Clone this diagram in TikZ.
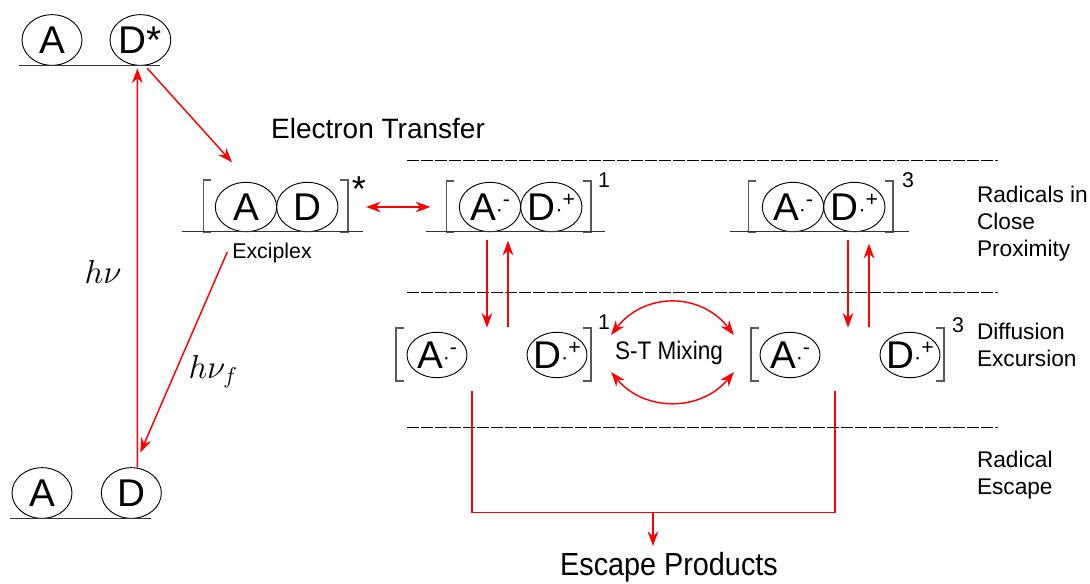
\documentclass[tikz,border=0pt]{standalone}
\usepackage{fontspec}
\setmainfont{Liberation Sans}
\usetikzlibrary{calc}
\usetikzlibrary{positioning}
\usetikzlibrary{arrows.meta}
\usetikzlibrary{shapes.geometric}

% ラジカルイオン（楕円の大きさは文字に合わせない）
\newcommand{\radion}[2]{\makebox[22pt]{#1\smash{\raisebox{3pt}{\fontsize{16}{16}\selectfont ·}\raisebox{10pt}{\fontsize{16}{16}\selectfont #2}}}}

\begin{document}
\begin{tikzpicture}
  [
  x=0.75pt, y=-0.75pt,
  % 線と文字の間の間隔を設定
  every node/.style={inner sep=0, outer sep=0},
  % 矢印の設定
  arrow/.style={-{Stealth[length=11pt, width=8pt]}, red, line width=1.1pt},
  twoway/.style={{Stealth[length=11pt, width=8pt]}-{Stealth[length=11pt, width=8pt]},
  red, line width=1.1pt},
  redline/.style={red, line width=1.1pt},
  % 分子
  mol/.style={ellipse, draw, line width=0.7pt, minimum width=45pt,
  minimum height=38pt, font=\fontsize{29}{29}\selectfont},
  pair/.style={mol, minimum width=46pt, minimum height=37pt},
  ion/.style={mol, minimum height=34pt},
  % 準位の線と括弧
  floorline/.style={line width=0.9pt, black!80},
  brack/.style={line width=0.9pt, black!65},
  divider/.style={line width=0.7pt, dash pattern=on 9pt off 1.5pt},
  % 右側の説明
  zone/.style={font=\fontsize{17}{20.3}\selectfont, align=left, anchor=west},
  spin/.style={font=\fontsize{16}{16}\selectfont}
  ]
  \useasboundingbox (0,0) rectangle (1090,583);

  % 励起状態
  \node [mol] (A0) at (52,40) {A};
  \node [mol, right=21pt of A0] (Dex) {D*};
  \draw [floorline] ($(A0.south)+(-33,0)$) -- ($(Dex.south)+(20,0)$);

  % 基底状態
  \node [mol] (A1) at (42,493) {A};
  \node [mol, right=22pt of A1] (D1) {D};
  \draw [floorline] ($(A1.south)+(-32,0)$) -- ($(D1.south)+(20,0)$);

  % エキサイプレックス
  \node [pair] (Ax) at (246,207) {A};
  \node [pair, right=0pt of Ax] (Dx) {D};
  \draw [brack] ($(Ax.west)+(-4,-27)$) -- ++(-8,0) -- ++(0,52) -- ++(8,0);
  \draw [brack] ($(Dx.east)+(2,-27)$) -- ++(8,0) -- ++(0,52) -- ++(-8,0);
  \draw [floorline] ($(Ax.south)+(-64,0)$) -- ($(Dx.south)+(56,0)$);
  \node [font=\fontsize{27}{27}\selectfont] (xstar) at (359,189) {*};
  \node [font=\fontsize{16}{16}\selectfont] (exlbl) at (272,253) {Exciplex};

  \node [font=\fontsize{21}{21}\selectfont] (et) at (378,128) {Electron Transfer};

  % 一重項ラジカル対
  \node [pair] (As) at (490,207) {\radion{A}{-}};
  \node [pair, right=0pt of As] (Ds) {\radion{D}{+}};
  \draw [brack] ($(As.west)+(-5,-26)$) -- ++(-8,0) -- ++(0,51) -- ++(8,0);
  \draw [brack] ($(Ds.east)+(1,-26)$) -- ++(8,0) -- ++(0,51) -- ++(-8,0);
  \draw [floorline] ($(As.south)+(-64,0)$) -- ($(Ds.south)+(54,0)$);
  \node [spin] (s1) at (604,180) {1};

  % 三重項ラジカル対
  \node [pair] (At) at (793,207) {\radion{A}{-}};
  \node [pair, right=0pt of At] (Dt) {\radion{D}{+}};
  \draw [brack] ($(At.west)+(-6,-26)$) -- ++(-8,0) -- ++(0,51) -- ++(8,0);
  \draw [brack] ($(Dt.east)+(0,-26)$) -- ++(8,0) -- ++(0,51) -- ++(-8,0);
  \draw [floorline] ($(At.south)+(-63,0)$) -- ($(Dt.south)+(55,0)$);
  \node [spin] (t1) at (908,180) {3};

  % 拡散したラジカル対
  \node [ion] (Asd) at (437,355) {\radion{A}{-}};
  \node [ion, right=45pt of Asd] (Dsd) {\radion{D}{+}};
  \draw [brack] ($(Asd.west)+(-3,-27)$) -- ++(-8,0) -- ++(0,53) -- ++(8,0);
  \draw [brack] ($(Dsd.east)+(-4,-27)$) -- ++(8,0) -- ++(0,53) -- ++(-8,0);
  \node [spin] (s2) at (604,322) {1};

  \node [ion] (Atd) at (790,355) {\radion{A}{-}};
  \node [ion, right=45pt of Atd] (Dtd) {\radion{D}{+}};
  \draw [brack] ($(Atd.west)+(-1,-27)$) -- ++(-8,0) -- ++(0,53) -- ++(8,0);
  \draw [brack] ($(Dtd.east)+(-4,-27)$) -- ++(8,0) -- ++(0,53) -- ++(-8,0);
  \node [spin] (t2) at (958,325) {3};

  % 区切りの点線
  \foreach \y in {160,292,427}
    \draw [divider] (407,\y) -- (998,\y);

  % 右側の説明
  \node [zone] (rcp) at (977,224) {Radicals in\\Close\\Proximity};
  \node [zone] (dex) at (977,345) {Diffusion\\Excursion};
  \node [zone] (res) at (977,475) {Radical\\Escape};

  % 光の吸収と蛍光
  \draw [arrow] ($(D1.north)+(6,0)$) -- ($(Dex.south)+(-3,3)$);
  \node [font=\fontsize{24}{24}\selectfont] (hv) at (103,272) {$h\nu$};
  \draw [arrow] ($(Dex.south)+(7,3)$) -- ($(Ax.north)+(-14,-20)$);
  \draw [arrow] ($(exlbl.west)+(-5,-1)$) -- ($(D1.north)+(9,-15)$);
  \node [font=\fontsize{24}{24}\selectfont] (hvf) at (213,372) {$h\nu_f$};

  % 電子移動
  \draw [twoway] ($(Dx.east)+(28,0)$) -- ($(As.west)+(-29,0)$);

  % 近接と拡散の間
  \draw [arrow] ($(As.south)+(-3,8)$) -- ($(As.south)+(-3,96)$);
  \draw [arrow] ($(As.south)+(18,95)$) -- ($(As.south)+(18,9)$);
  \draw [arrow] ($(At.south)+(55,8)$) -- ($(At.south)+(55,96)$);
  \draw [arrow] ($(At.south)+(76,95)$) -- ($(At.south)+(76,12)$);

  % 一重項と三重項の混合
  \node [font=\fontsize{19}{19}\selectfont\addfontfeature{FakeStretch=0.89}] (mix)
  at (669,353) {S-T Mixing};
  \draw [twoway] ($(mix.west)+(-4,-18)$) .. controls ($(mix.west)+(29,-61)$)
  and ($(mix.east)+(-22,-61)$) .. ($(mix.east)+(11,-18)$);
  \draw [twoway] ($(mix.west)+(-4,19)$) .. controls ($(mix.west)+(29,59)$)
  and ($(mix.east)+(-22,59)$) .. ($(mix.east)+(11,19)$);

  % 脱出生成物
  \node [font=\fontsize{24}{24}\selectfont\addfontfeature{FakeStretch=0.9}] (prod)
  at (669,567) {Escape Products};
  \draw [redline] ($(Asd.south)+(35,13)$) |- ($(Atd.south)+(45,135)$)
  -- ($(Atd.south)+(45,13)$);
  \coordinate (esc) at (653,512);
  \draw [arrow] (esc) -- ($(esc |- prod.north)+(0,-6)$);
\end{tikzpicture}
\end{document}
